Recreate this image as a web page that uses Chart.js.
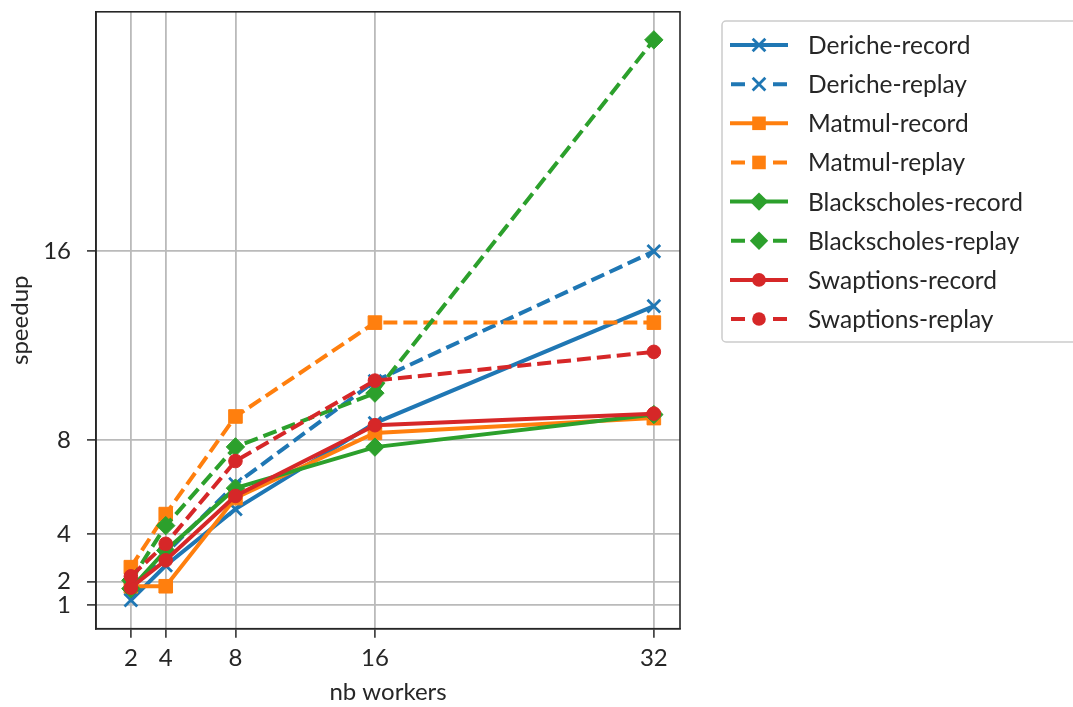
<!DOCTYPE html>
<html>
<head>
<meta charset="utf-8">
<script src="https://cdn.jsdelivr.net/npm/chart.js@4"></script>
<style>
  html, body { margin: 0; padding: 0; background: #fff; }
  #wrap { position: relative; width: 1073px; height: 707px; }
</style>
</head>
<body>
<div id="wrap"><canvas id="speedupChart" width="1073" height="707"></canvas></div>
<script>
// data
const workers = [2, 4, 8, 16, 32];
const xTicks = [2, 4, 8, 16, 32];
const yTicks = [1, 2, 4, 8, 16];

const dericheRecord = [1.21, 2.68, 5.07, 8.72, 13.68];
const dericheReplay = [1.7, 3.2, 6.13, 10.5, 16.0];
const matmulRecord = [1.8, 1.8, 5.54, 8.3, 8.93];
const matmulReplay = [2.61, 4.86, 9.0, 12.98, 12.98];
const blackscholesRecord = [1.7, 3.32, 5.96, 7.7, 9.08];
const blackscholesReplay = [2.05, 4.37, 7.71, 9.99, 24.97];
const swaptionsRecord = [1.74, 2.9, 5.63, 8.63, 9.12];
const swaptionsReplay = [2.22, 3.6, 7.11, 10.52, 11.74];

const BLUE = "#1f77b4", ORANGE = "#ff7f0e", GREEN = "#2ca02c", RED = "#d62728";
const FONT = "Lato, 'Open Sans', sans-serif";
const TEXT = "#262626";
const DASH = [14, 6];
const LW = 4;

const series = [
  { label: "Deriche-record", data: dericheRecord, color: BLUE, dashed: false, marker: "crossRot", r: 9 },
  { label: "Deriche-replay", data: dericheReplay, color: BLUE, dashed: true, marker: "crossRot", r: 9 },
  { label: "Matmul-record", data: matmulRecord, color: ORANGE, dashed: false, marker: "rect", r: 9.6 },
  { label: "Matmul-replay", data: matmulReplay, color: ORANGE, dashed: true, marker: "rect", r: 9.6 },
  { label: "Blackscholes-record", data: blackscholesRecord, color: GREEN, dashed: false, marker: "rectRot", r: 9.2 },
  { label: "Blackscholes-replay", data: blackscholesReplay, color: GREEN, dashed: true, marker: "rectRot", r: 9.2 },
  { label: "Swaptions-record", data: swaptionsRecord, color: RED, dashed: false, marker: "circle", r: 6.8 },
  { label: "Swaptions-replay", data: swaptionsReplay, color: RED, dashed: true, marker: "circle", r: 6.8 },
];

const datasets = series.map((s, i) => ({
  label: s.label,
  data: workers.map((w, k) => ({ x: w, y: s.data[k] })),
  borderColor: s.color,
  backgroundColor: s.color,
  borderWidth: LW,
  borderDash: s.dashed ? DASH : [],
  pointStyle: s.marker,
  pointRadius: s.r,
  pointBorderWidth: s.marker === "crossRot" ? 2.8 : 1,
  pointBorderColor: s.color,
  pointBackgroundColor: s.color,
  tension: 0,
  order: series.length - i,
}));

// own marker drawing for the legend
function drawMarker(ctx, type, x, y, r, color) {
  ctx.save();
  ctx.setLineDash([]);
  ctx.fillStyle = color;
  ctx.strokeStyle = color;
  ctx.beginPath();
  if (type === "circle") {
    ctx.arc(x, y, r, 0, Math.PI * 2);
    ctx.fill();
  } else if (type === "rect") {
    const h = r * Math.SQRT1_2;
    ctx.rect(x - h, y - h, 2 * h, 2 * h);
    ctx.fill();
  } else if (type === "rectRot") {
    ctx.moveTo(x, y - r);
    ctx.lineTo(x + r, y);
    ctx.lineTo(x, y + r);
    ctx.lineTo(x - r, y);
    ctx.closePath();
    ctx.fill();
  } else if (type === "crossRot") {
    const h = r * Math.SQRT1_2;
    ctx.lineWidth = 2.8;
    ctx.moveTo(x - h, y - h); ctx.lineTo(x + h, y + h);
    ctx.moveTo(x + h, y - h); ctx.lineTo(x - h, y + h);
    ctx.stroke();
  }
  ctx.restore();
}

const framePlugin = {
  id: "frame",
  afterDraw(chart) {
    const ctx = chart.ctx;
    const a = chart.chartArea;
    ctx.save();
    // spines
    ctx.strokeStyle = TEXT;
    ctx.lineWidth = 1.6;
    ctx.strokeRect(a.left, a.top, a.right - a.left, a.bottom - a.top);

    // axis titles
    ctx.fillStyle = TEXT;
    ctx.font = "24px " + FONT;
    ctx.textAlign = "center";
    ctx.textBaseline = "middle";
    ctx.fillText("nb workers", (a.left + a.right) / 2, 692);
    ctx.save();
    ctx.translate(20, (a.top + a.bottom) / 2);
    ctx.rotate(-Math.PI / 2);
    ctx.fillText("speedup", 0, 0);
    ctx.restore();

    // legend
    ctx.beginPath();
    ctx.lineWidth = 1.5;
    ctx.strokeStyle = "#cccccc";
    ctx.fillStyle = "rgba(255,255,255,0.9)";
    ctx.roundRect(722, 21, 420, 321, 4);
    ctx.fill();
    ctx.stroke();

    ctx.font = "24.5px " + FONT;
    ctx.textAlign = "left";
    ctx.textBaseline = "middle";
    series.forEach((s, i) => {
      const y = 45 + i * 39.15;
      ctx.save();
      ctx.strokeStyle = s.color;
      ctx.lineWidth = LW;
      ctx.beginPath();
      if (s.dashed) {
        ctx.moveTo(731, y); ctx.lineTo(745, y);
        ctx.moveTo(773, y); ctx.lineTo(787, y);
      } else {
        ctx.moveTo(730, y); ctx.lineTo(788, y);
      }
      ctx.stroke();
      ctx.restore();
      drawMarker(ctx, s.marker, 759, y, s.r, s.color);
      ctx.fillStyle = TEXT;
      ctx.fillText(s.label, 808, y + 1);
    });
    ctx.restore();
  },
};

new Chart(document.getElementById("speedupChart"), {
  type: "line",
  data: { datasets },
  options: {
    responsive: false,
    animation: false,
    layout: { padding: { left: 0, top: 5, right: 393, bottom: 0 } },
    plugins: { legend: { display: false }, tooltip: { enabled: false } },
    scales: {
      x: {
        type: "linear",
        min: 0,
        max: 33.5,
        afterBuildTicks: (scale) => { scale.ticks = xTicks.map((v) => ({ value: v })); },
        afterFit: (scale) => {
          scale.height = 78.3;
          scale.paddingLeft = 0; scale.paddingRight = 0;
        },
        ticks: { color: TEXT, font: { family: FONT, size: 24 }, padding: 6, maxRotation: 0, autoSkip: false },
        grid: { color: "#bababa", lineWidth: 1.8, tickColor: TEXT, tickLength: 9, tickWidth: 1.5 },
        border: { color: TEXT, width: 1.6 },
      },
      y: {
        type: "linear",
        min: 0,
        max: 26.16,
        afterBuildTicks: (scale) => { scale.ticks = yTicks.map((v) => ({ value: v })); },
        afterFit: (scale) => {
          scale.width = 96;
          scale.paddingTop = 0; scale.paddingBottom = 0;
        },
        ticks: { color: TEXT, font: { family: FONT, size: 24 }, padding: 16, autoSkip: false },
        grid: { color: "#bababa", lineWidth: 1.8, tickColor: TEXT, tickLength: 9, tickWidth: 1.5 },
        border: { color: TEXT, width: 1.6 },
      },
    },
  },
  plugins: [framePlugin],
});
</script>
</body>
</html>
